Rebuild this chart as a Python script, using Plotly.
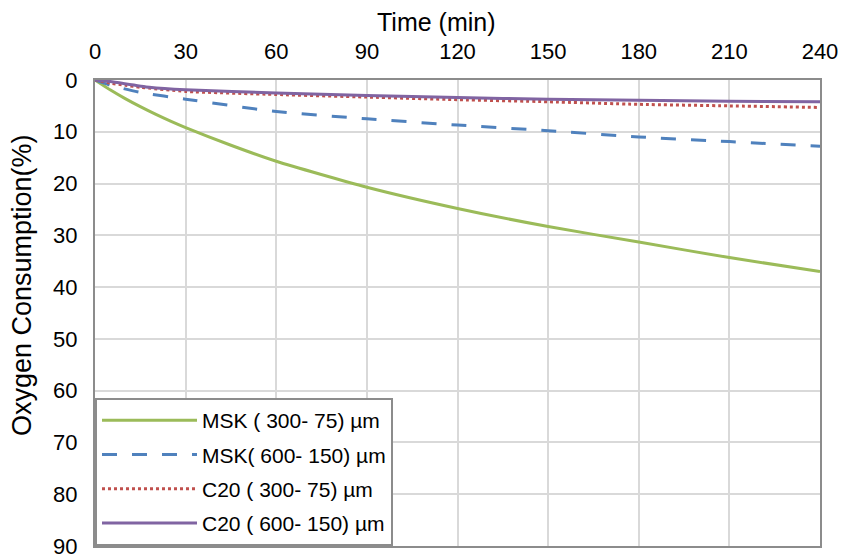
import plotly.graph_objects as go

# Time (min)
t_msk_fine = [0, 5, 10, 15, 20, 25, 30, 45, 60, 90, 120, 150, 180, 210, 240]
msk_300_75 = [0, 1.9, 3.6, 5.15, 6.6, 7.95, 9.2, 12.6, 15.7, 20.7, 24.8, 28.3, 31.3, 34.3, 37.0]

t_msk_coarse = [0, 5, 15, 30, 60, 90, 120, 150, 180, 210, 240]
msk_600_150 = [0, 1.0, 2.4, 3.7, 6.1, 7.5, 8.7, 9.8, 11.0, 11.9, 12.8]

t_c20_fine = [0, 5, 10, 15, 30, 60, 90, 120, 150, 180, 210, 240]
c20_300_75 = [0, 0.6, 1.0, 1.4, 2.2, 2.8, 3.3, 3.8, 4.2, 4.7, 5.0, 5.3]

t_c20_coarse = [0, 5, 18, 30, 60, 90, 120, 150, 180, 210, 240]
c20_600_150 = [0, 0.3, 1.4, 1.9, 2.5, 3.0, 3.4, 3.7, 3.9, 4.1, 4.2]

names = ["MSK ( 300- 75) µm", "MSK( 600- 150) µm", "C20 ( 300- 75) µm", "C20 ( 600- 150) µm"]
colors = ["#9BBB59", "#4F81BD", "#C0504D", "#8064A2"]
dashes = ["solid", "longdash", "dot", "solid"]

x_ticks = [0, 30, 60, 90, 120, 150, 180, 210, 240]
y_ticks = [0, 10, 20, 30, 40, 50, 60, 70, 80, 90]

x_title = "Time (min)"
y_title = "Oxygen Consumption(%)"

series = [
    (t_msk_fine, msk_300_75),
    (t_msk_coarse, msk_600_150),
    (t_c20_fine, c20_300_75),
    (t_c20_coarse, c20_600_150),
]

FONT = "Arial, Liberation Sans, sans-serif"

fig = go.Figure()
for i, (xs, ys) in enumerate(series):
    fig.add_trace(go.Scatter(
        x=xs, y=ys, mode="lines", name=names[i],
        legendgroup=f"g{i}",
        line=dict(color=colors[i], width=3, dash=dashes[i], shape="spline", smoothing=0.6),
    ))

fig.update_layout(
    width=842, height=556,
    margin=dict(l=95, r=22, t=80, b=10, autoexpand=False),
    paper_bgcolor="white", plot_bgcolor="white",
    font=dict(family=FONT, size=22, color="#000000"),
    showlegend=True,
    legend=dict(
        x=0, y=0, xanchor="left", yanchor="bottom",
        bgcolor="white", bordercolor="#8C8C8C", borderwidth=2,
        font=dict(family=FONT, size=21, color="#000000"),
        tracegroupgap=4,
        traceorder="grouped",
        itemwidth=95,
    ),
    xaxis=dict(
        side="top", range=[0, 240], tickvals=x_ticks,
        ticktext=[str(v) for v in x_ticks],
        showgrid=True, gridcolor="#D9D9D9", gridwidth=2,
        showline=True, linecolor="#8C8C8C", linewidth=2, mirror=True,
        ticks="", ticklabelstandoff=10, automargin=False,
        ticklabeloverflow="allow",
        zeroline=False,
    ),
    yaxis=dict(
        range=[90, 0], tickvals=y_ticks,
        ticktext=[str(v) for v in y_ticks],
        showgrid=True, gridcolor="#D9D9D9", gridwidth=2,
        showline=True, linecolor="#8C8C8C", linewidth=2, mirror=True,
        ticks="", ticklabelstandoff=11, automargin=False,
        ticklabeloverflow="allow",
        zeroline=False,
    ),
    annotations=[
        dict(text=x_title, xref="paper", yref="paper", x=0.471, y=1.124,
             xanchor="center", yanchor="middle", showarrow=False,
             font=dict(family=FONT, size=25, color="#000000")),
        dict(text=y_title, xref="paper", yref="paper", x=-0.1007, y=0.56,
             xanchor="center", yanchor="middle", showarrow=False, textangle=-90,
             font=dict(family=FONT, size=27, color="#000000")),
    ],
)

fig.write_html(
    "out.html",
    config={"displayModeBar": False},
    post_script="document.body.style.margin='0';document.body.style.padding='0';",
)
